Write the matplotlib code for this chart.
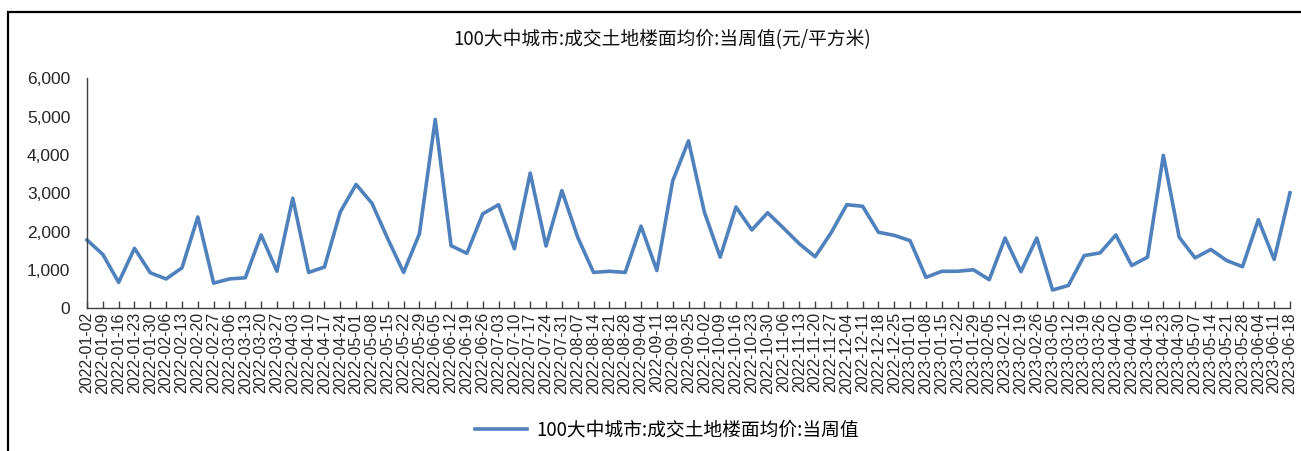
import matplotlib
matplotlib.use('Agg')
import matplotlib.pyplot as plt
from matplotlib.patches import Rectangle

dates = [
    "2022-01-02", "2022-01-09", "2022-01-16", "2022-01-23", "2022-01-30",
    "2022-02-06", "2022-02-13", "2022-02-20", "2022-02-27",
    "2022-03-06", "2022-03-13", "2022-03-20", "2022-03-27",
    "2022-04-03", "2022-04-10", "2022-04-17", "2022-04-24",
    "2022-05-01", "2022-05-08", "2022-05-15", "2022-05-22", "2022-05-29",
    "2022-06-05", "2022-06-12", "2022-06-19", "2022-06-26",
    "2022-07-03", "2022-07-10", "2022-07-17", "2022-07-24", "2022-07-31",
    "2022-08-07", "2022-08-14", "2022-08-21", "2022-08-28",
    "2022-09-04", "2022-09-11", "2022-09-18", "2022-09-25",
    "2022-10-02", "2022-10-09", "2022-10-16", "2022-10-23", "2022-10-30",
    "2022-11-06", "2022-11-13", "2022-11-20", "2022-11-27",
    "2022-12-04", "2022-12-11", "2022-12-18", "2022-12-25",
    "2023-01-01", "2023-01-08", "2023-01-15", "2023-01-22", "2023-01-29",
    "2023-02-05", "2023-02-12", "2023-02-19", "2023-02-26",
    "2023-03-05", "2023-03-12", "2023-03-19", "2023-03-26",
    "2023-04-02", "2023-04-09", "2023-04-16", "2023-04-23", "2023-04-30",
    "2023-05-07", "2023-05-14", "2023-05-21", "2023-05-28",
    "2023-06-04", "2023-06-11", "2023-06-18",
]

price = [
    1780, 1400, 670, 1560, 920, 760, 1050, 2380, 650, 760, 790, 1910, 960,
    2870, 930, 1070, 2510, 3230, 2740, 1810, 930, 1940, 4930,
    1630, 1430, 2460, 2700, 1550, 3530, 1620, 3070, 1850, 930, 960, 930,
    2140, 980, 3320, 4370, 2510, 1330, 2640, 2040, 2490, 2090, 1680, 1340,
    1960, 2700, 2660,
    1980, 1900, 1760, 800, 960, 960, 1000, 740, 1830, 950, 1830, 470, 590,
    1370, 1440, 1910, 1110, 1330, 3990, 1850, 1310, 1530, 1240, 1080, 2310,
    1270, 3010,
]

yticks = [0, 1000, 2000, 3000, 4000, 5000, 6000]
title = "100大中城市:成交土地楼面均价:当周值(元/平方米)"
series_name = "100大中城市:成交土地楼面均价:当周值"

cjk = ['Noto Sans CJK SC', 'DejaVu Sans']
latin = ['Liberation Sans', 'DejaVu Sans']

W, H = 1301, 451
fig = plt.figure(figsize=(W / 100, H / 100), dpi=100)
fig.patch.set_facecolor('white')

# outer frame (extends beyond right/bottom edges)
fig.add_artist(Rectangle((8 / W, -0.1), 1.2, 1 - 12 / H + 0.1,
                         transform=fig.transFigure, fill=False,
                         edgecolor='black', linewidth=1.6))

ax = fig.add_axes([87 / W, 1 - 308 / H, (1290 - 87) / W, (308 - 78.5) / H])
x = list(range(len(price)))
line, = ax.plot(x, price, color='#4F81BD', linewidth=2.6, solid_joinstyle='round',
                label=series_name, clip_on=False)

ax.set_xlim(0, len(price) - 1)
ax.set_ylim(0, 6000)
ax.set_yticks(yticks)
ax.set_yticklabels([f"{v:,}" for v in yticks], fontfamily=latin, fontsize=12.5,
                   color='#262626')
ax.set_yticks([6000], minor=True)
ax.tick_params(axis='y', which='major', length=0, pad=12)
ax.tick_params(axis='y', which='minor', direction='in', length=4, width=1,
               color='#404040')

ax.set_xticks(x)
ax.set_xticklabels(dates, rotation=90, fontfamily=latin, fontsize=11.5,
                   color='#262626', va='top', ha='center')
ax.tick_params(axis='x', direction='in', length=5, width=1, color='#404040', pad=3)

for s in ['top', 'right']:
    ax.spines[s].set_visible(False)
for s in ['left', 'bottom']:
    ax.spines[s].set_color('#404040')
    ax.spines[s].set_linewidth(1.0)

fig.text(662 / W, 1 - 40 / H, title, ha='center', va='center',
         fontfamily=cjk, fontsize=13.5, color='#111111')

fig.legend(handles=[line], loc='center', bbox_to_anchor=(667 / W, 1 - 430 / H),
           frameon=False, prop={'family': cjk, 'size': 13.5},
           handlelength=2.8, handletextpad=0.5)

fig.savefig('out.png', dpi=100, facecolor='white')
